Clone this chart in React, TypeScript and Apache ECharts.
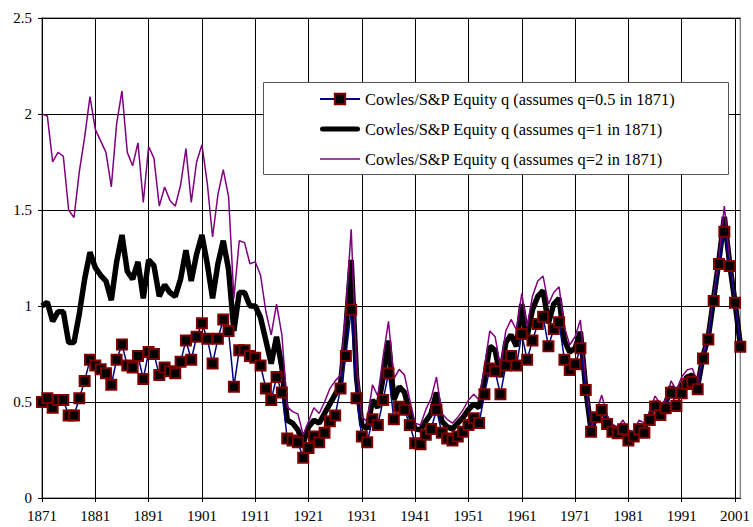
import React, { useEffect, useRef } from "react";
import * as echarts from "echarts";

const years: string[] = [];
for (let y = 1871; y <= 2002; y++) years.push(String(y));

const seriesNames = [
  "Cowles/S&P Equity q (assumes q=0.5 in 1871)",
  "Cowles/S&P Equity q (assumes q=1 in 1871)",
  "Cowles/S&P Equity q (assumes q=2 in 1871)",
];

const yTicks = [0, 0.5, 1, 1.5, 2, 2.5];

const qHalf = [
  0.50, 0.52, 0.47, 0.51, 0.51, 0.43, 0.43, 0.52, 0.61, 0.72,
  0.69, 0.67, 0.65, 0.59, 0.72, 0.80, 0.69, 0.68, 0.74, 0.62,
  0.76, 0.75, 0.64, 0.68, 0.66, 0.65, 0.71, 0.82, 0.72, 0.84,
  0.91, 0.83, 0.70, 0.83, 0.93, 0.87, 0.58, 0.77, 0.77, 0.74,
  0.73, 0.69, 0.57, 0.51, 0.63, 0.55, 0.31, 0.30, 0.29, 0.21,
  0.26, 0.32, 0.29, 0.34, 0.40, 0.43, 0.57, 0.74, 0.98, 0.52,
  0.32, 0.29, 0.41, 0.38, 0.51, 0.65, 0.41, 0.475, 0.46, 0.38,
  0.285, 0.28, 0.33, 0.36, 0.46, 0.34, 0.31, 0.30, 0.32, 0.345,
  0.38, 0.415, 0.39, 0.54, 0.675, 0.66, 0.54, 0.69, 0.74, 0.69,
  0.854, 0.72, 0.82, 0.906, 0.944, 0.79, 0.88, 0.915, 0.72, 0.667,
  0.696, 0.78, 0.5625, 0.345, 0.42, 0.458, 0.385, 0.345, 0.337, 0.358,
  0.30, 0.32, 0.358, 0.34, 0.406, 0.476, 0.432, 0.467, 0.548, 0.479,
  0.545, 0.594, 0.606, 0.566, 0.727, 0.826, 1.026, 1.219, 1.387, 1.208,
  1.017, 0.788,
];

const qOne = [
  1.00, 1.02, 0.92, 0.97, 0.97, 0.81, 0.81, 0.96, 1.14, 1.28,
  1.20, 1.16, 1.13, 1.03, 1.23, 1.37, 1.18, 1.14, 1.23, 1.04,
  1.24, 1.21, 1.05, 1.11, 1.07, 1.05, 1.14, 1.29, 1.13, 1.27,
  1.37, 1.22, 1.04, 1.22, 1.34, 1.19, 0.87, 1.07, 1.07, 1.00,
  1.00, 0.94, 0.82, 0.70, 0.84, 0.68, 0.405, 0.39, 0.355, 0.285,
  0.37, 0.405, 0.39, 0.44, 0.49, 0.54, 0.59, 0.88, 1.24, 0.63,
  0.38, 0.36, 0.51, 0.47, 0.63, 0.82, 0.51, 0.58, 0.55, 0.44,
  0.36, 0.355, 0.40, 0.44, 0.55, 0.40, 0.37, 0.36, 0.39, 0.42,
  0.46, 0.49, 0.47, 0.62, 0.79, 0.77, 0.63, 0.81, 0.85, 0.79,
  1.01, 0.84, 0.98, 1.05, 1.08, 0.91, 1.01, 1.04, 0.82, 0.76,
  0.78, 0.866, 0.57, 0.354, 0.43, 0.458, 0.41, 0.363, 0.345, 0.38,
  0.328, 0.33, 0.38, 0.363, 0.424, 0.502, 0.458, 0.49, 0.58, 0.52,
  0.588, 0.63, 0.64, 0.58, 0.74, 0.84, 1.04, 1.24, 1.465, 1.22,
  1.02, 0.797,
];

const qTwo = [
  2.00, 1.99, 1.75, 1.80, 1.78, 1.50, 1.46, 1.70, 1.88, 2.09,
  1.92, 1.86, 1.80, 1.62, 1.95, 2.12, 1.80, 1.73, 1.85, 1.54,
  1.83, 1.77, 1.52, 1.62, 1.55, 1.52, 1.63, 1.82, 1.54, 1.75,
  1.84, 1.64, 1.36, 1.58, 1.71, 1.57, 1.04, 1.34, 1.33, 1.22,
  1.23, 1.16, 0.97, 0.85, 1.01, 0.85, 0.476, 0.45, 0.438, 0.328,
  0.40, 0.47, 0.44, 0.50, 0.57, 0.61, 0.64, 0.98, 1.40, 0.70,
  0.42, 0.40, 0.59, 0.53, 0.74, 0.92, 0.62, 0.67, 0.64, 0.51,
  0.39, 0.38, 0.46, 0.52, 0.63, 0.44, 0.41, 0.39, 0.42, 0.46,
  0.51, 0.54, 0.51, 0.68, 0.87, 0.84, 0.68, 0.87, 0.93, 0.875,
  1.066, 0.89, 1.05, 1.13, 1.156, 1.01, 1.07, 1.10, 0.89, 0.797,
  0.84, 0.927, 0.60, 0.36, 0.45, 0.536, 0.43, 0.385, 0.368, 0.406,
  0.354, 0.345, 0.406, 0.39, 0.45, 0.531, 0.49, 0.51, 0.61, 0.562,
  0.63, 0.667, 0.675, 0.60, 0.745, 0.858, 1.057, 1.257, 1.521, 1.24,
  1.03, 0.806,
];

const FONT = "'Liberation Serif', 'Times New Roman', serif";

export default function App() {
  const ref = useRef<HTMLDivElement>(null);
  useEffect(() => {
    if (!ref.current) return;
    const chart = echarts.init(ref.current, null, { renderer: "svg" });
    chart.setOption({
      animation: false,
      backgroundColor: "#fff",
      textStyle: { fontFamily: FONT },
      grid: {
        left: 42,
        top: 18,
        right: 10,
        bottom: 29,
        show: true,
        borderColor: "#8a8a8a",
        borderWidth: 1.5,
        backgroundColor: "#fff",
      },
      graphic: [
        {
          type: "rect",
          z: 50,
          x: 263.5,
          y: 82.5,
          shape: { x: 0, y: 0, width: 465, height: 92 },
          style: { fill: "#fff", stroke: "#555", lineWidth: 1 },
        },
      ],
      legend: {
        z: 60,
        orient: "vertical",
        left: 319,
        top: 91,
        padding: 0,
        itemGap: 14,
        itemWidth: 40,
        itemHeight: 13,
        textStyle: { fontFamily: FONT, fontSize: 16.4, color: "#000" },
        data: [
          { name: seriesNames[0] },
          {
            name: seriesNames[1],
            icon: "path://M2.5,0h35a2.5,2.5 0 0 1 0,5h-35a2.5,2.5 0 0 1 0,-5z",
          },
          { name: seriesNames[2], icon: "path://M0,0h40v1.5h-40z" },
        ],
      },
      xAxis: {
        type: "category",
        data: years,
        boundaryGap: false,
        axisLine: { lineStyle: { color: "#000", width: 1 } },
        axisTick: { interval: 9, length: 4, lineStyle: { color: "#000" } },
        axisLabel: {
          interval: 9,
          margin: 10,
          fontFamily: FONT,
          fontSize: 15,
          color: "#000",
        },
        splitLine: { show: true, interval: 9, lineStyle: { color: "#000", width: 1 } },
      },
      yAxis: {
        type: "value",
        min: yTicks[0],
        max: yTicks[yTicks.length - 1],
        interval: 0.5,
        axisLine: { show: true, lineStyle: { color: "#000", width: 1 } },
        axisTick: { show: true, length: 4, lineStyle: { color: "#000" } },
        axisLabel: {
          margin: 10,
          color: "#000",
          fontFamily: FONT,
          fontSize: 15,
        },
        splitLine: { show: true, lineStyle: { color: "#000", width: 1 } },
      },
      series: [
        {
          name: seriesNames[0],
          type: "line",
          data: qHalf,
          z: 4,
          symbol: "rect",
          symbolSize: 10,
          showAllSymbol: true,
          lineStyle: { color: "#000080", width: 1.5 },
          itemStyle: { color: "#000", borderColor: "#800000", borderWidth: 2 },
        },
        {
          name: seriesNames[1],
          type: "line",
          data: qOne,
          z: 2,
          symbol: "none",
          lineStyle: { color: "#000", width: 5.5 },
          itemStyle: { color: "#000" },
        },
        {
          name: seriesNames[2],
          type: "line",
          data: qTwo,
          z: 3,
          symbol: "none",
          lineStyle: { color: "#800080", width: 1.5 },
          itemStyle: { color: "#800080" },
        },
      ],
    });
    return () => chart.dispose();
  }, []);
  return (
    <div
      ref={ref}
      style={{ position: "absolute", left: 0, top: 0, width: 753, height: 527 }}
    />
  );
}
